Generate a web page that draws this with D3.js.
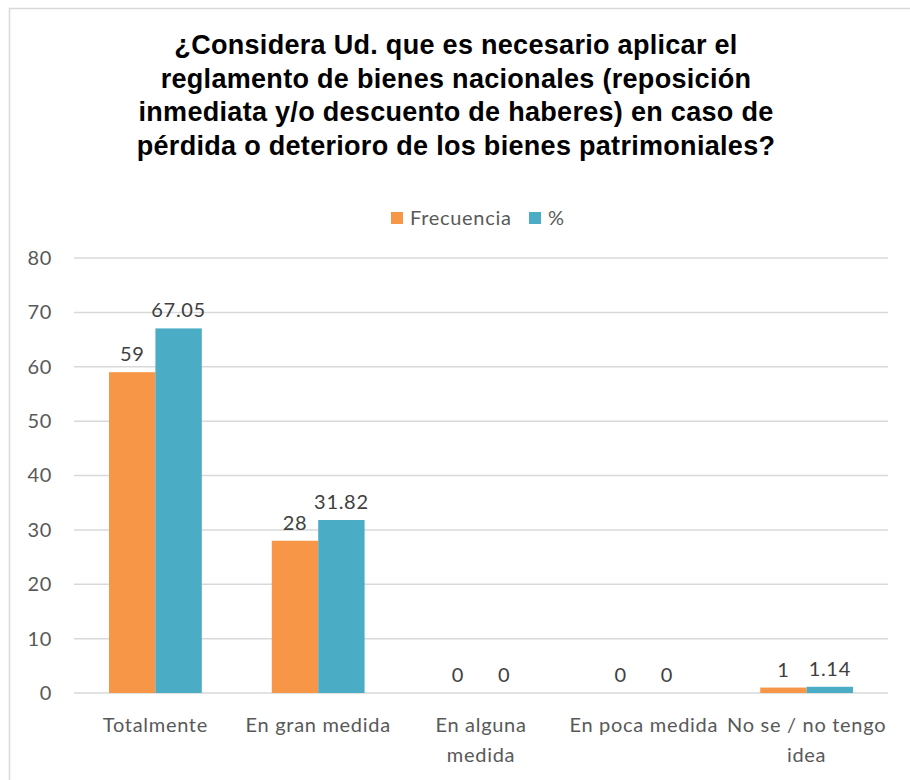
<!DOCTYPE html>
<html>
<head>
<meta charset="utf-8">
<script src="https://cdn.jsdelivr.net/npm/d3@7"></script>
<style>
  body { margin: 0; background: #fff; }
  svg { display: block; }
</style>
</head>
<body>
<script>
// data
const categories = ["Totalmente", "En gran medida", "En alguna medida", "En poca medida", "No se / no tengo idea"];
const categoryLines = [["Totalmente"], ["En gran medida"], ["En alguna", "medida"], ["En poca medida"], ["No se / no tengo", "idea"]];
const seriesNames = ["Frecuencia", "%"];
const frecuencia = [59, 28, 0, 0, 1];
const porcentaje = [67.05, 31.82, 0, 0, 1.14];
const valueLabels = [["59", "28", "0", "0", "1"], ["67.05", "31.82", "0", "0", "1.14"]];
const yTicks = [0, 10, 20, 30, 40, 50, 60, 70, 80];
const titleLines = [
  "¿Considera Ud. que es necesario aplicar el",
  "reglamento de bienes nacionales (reposición",
  "inmediata y/o descuento de haberes) en caso de",
  "pérdida o deterioro de los bienes patrimoniales?"
];
const colors = ["#F79646", "#4BACC6"];

const W = 910, H = 780;
const margin = {top: 258, right: 22, bottom: 87, left: 74};
const width = W - margin.left - margin.right,
      height = H - margin.top - margin.bottom;

const bodyFont = "Lato, 'Open Sans', sans-serif";

const svg = d3.select("body").append("svg")
    .attr("width", W)
    .attr("height", H);

// chart frame
svg.append("rect")
    .attr("x", 9.5).attr("y", 8.5)
    .attr("width", 930).attr("height", 800)
    .attr("fill", "none")
    .attr("stroke", "#d9d9d9")
    .attr("stroke-width", 1.5);

// title
svg.append("text")
    .attr("text-anchor", "middle")
    .style("font-family", "'Liberation Sans', Arial, sans-serif")
    .style("font-weight", "bold")
    .style("font-size", "27px")
    .style("letter-spacing", "0.3px")
    .attr("fill", "#000")
  .selectAll("tspan")
  .data(titleLines)
  .enter().append("tspan")
    .attr("x", 456)
    .attr("y", (d, i) => 54 + i * 33.7)
    .text(d => d);

// legend
const legend = svg.append("g")
    .style("font-family", bodyFont)
    .style("font-size", "20px")
    .style("letter-spacing", "0.7px")
    .attr("fill", "#595959");
const legendX = [391, 529];
seriesNames.forEach(function(name, i) {
  legend.append("rect")
      .attr("x", legendX[i]).attr("y", 212)
      .attr("width", 12).attr("height", 12)
      .attr("fill", colors[i]);
  legend.append("text")
      .attr("x", legendX[i] + 19).attr("y", 225)
      .text(name);
});

const g = svg.append("g")
    .attr("transform", "translate(" + margin.left + "," + margin.top + ")");

const x0 = d3.scaleBand()
    .domain(categories)
    .range([0, width])
    .paddingInner(0.43)
    .paddingOuter(0.215);

const x1 = d3.scaleBand()
    .domain([0, 1])
    .range([0, x0.bandwidth()]);

const y = d3.scaleLinear()
    .domain([0, 80])
    .range([height, 0]);

// gridlines
g.append("g")
  .selectAll("line")
  .data(yTicks)
  .enter().append("line")
    .attr("x1", 0).attr("x2", width)
    .attr("y1", d => y(d)).attr("y2", d => y(d))
    .attr("stroke", "#d9d9d9")
    .attr("stroke-width", 1.5);

// y axis
const yAxis = g.append("g")
    .call(d3.axisLeft(y).tickValues(yTicks).tickSize(0).tickPadding(22));
yAxis.select(".domain").remove();
yAxis.selectAll("text")
    .style("font-family", bodyFont)
    .style("font-size", "20px")
    .style("letter-spacing", "0.7px")
    .attr("fill", "#595959");

// x axis labels
const xAxis = g.append("g")
    .attr("transform", "translate(0," + height + ")")
    .call(d3.axisBottom(x0).tickSize(0).tickFormat(""));
xAxis.select(".domain").remove();
xAxis.selectAll(".tick").each(function(d, i) {
  const t = d3.select(this).append("text")
      .attr("text-anchor", "middle")
      .style("font-family", bodyFont)
      .style("font-size", "20px")
      .style("letter-spacing", "0.7px")
      .attr("fill", "#595959");
  categoryLines[i].forEach(function(line, j) {
    t.append("tspan")
        .attr("x", 0)
        .attr("y", 39 + j * 30)
        .text(line);
  });
});

// bars
const series = [frecuencia, porcentaje];
series.forEach(function(values, s) {
  g.selectAll(".bar" + s)
    .data(values)
    .enter().append("rect")
      .attr("x", (d, i) => x0(categories[i]) + x1(s))
      .attr("y", d => y(d))
      .attr("width", x1.bandwidth())
      .attr("height", d => height - y(d))
      .attr("fill", colors[s]);

  g.selectAll(".lab" + s)
    .data(values)
    .enter().append("text")
      .attr("x", (d, i) => x0(categories[i]) + x1(s) + x1.bandwidth() / 2)
      .attr("y", d => y(d) - 11)
      .attr("text-anchor", "middle")
      .style("font-family", bodyFont)
      .style("font-size", "20px")
      .style("letter-spacing", "0.7px")
      .attr("fill", "#404040")
      .text((d, i) => valueLabels[s][i]);
});
</script>
</body>
</html>
